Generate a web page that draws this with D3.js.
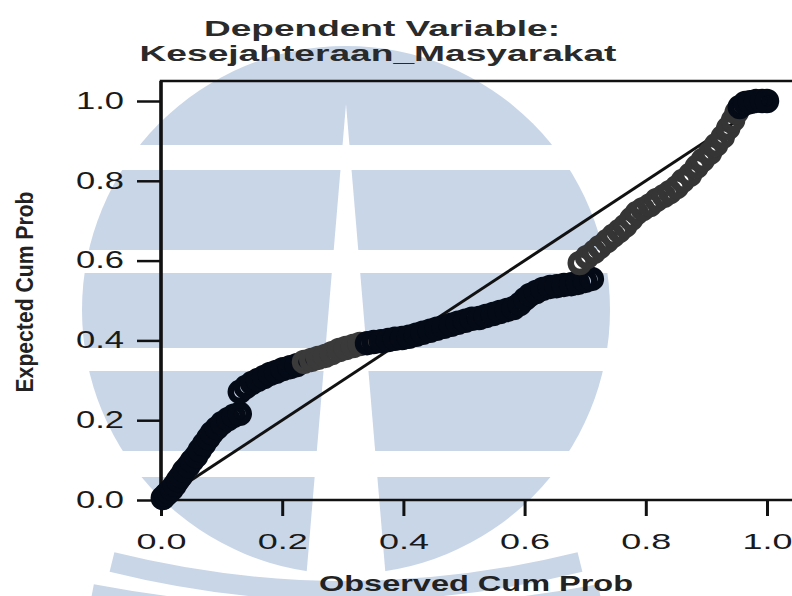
<!DOCTYPE html>
<meta charset="utf-8">

<!-- Load d3.js -->
<script src="https://d3js.org/d3.v7.js"></script>

<style>
  body { margin: 0; background: #fff; }
  text { font-family: "Liberation Sans", Arial, sans-serif; }
</style>

<div id="my_dataviz"></div>

<script>
// P-P plot values (observed cum prob, expected cum prob)
var observed = [0.003,0.008,0.013,0.018,0.023,0.028,0.033,0.038,0.045,0.051,0.058,0.064,0.071,0.078,0.084,0.092,0.101,0.111,0.120,0.130,
  0.130,0.140,0.150,0.160,0.170,0.180,0.190,0.201,0.213,0.224,0.236,0.248,0.259,0.271,0.282,0.294,0.305,0.317,0.328,0.340,
  0.351,0.363,0.375,0.386,0.398,0.409,0.421,0.432,0.444,0.455,0.467,0.479,0.490,0.502,0.513,0.525,0.536,0.548,0.559,0.571,
  0.582,0.592,0.601,0.609,0.619,0.630,0.642,0.653,0.665,0.677,0.688,0.700,0.711,
  0.691,0.703,0.715,0.724,0.736,0.746,0.756,0.766,0.776,0.785,0.795,0.807,0.818,0.830,0.840,0.851,0.861,0.873,0.884,0.894,
  0.906,0.916,0.927,0.936,0.944,0.950,0.955,0.964,0.972,0.982,0.992,1.000]
var expected = [0.005,0.013,0.020,0.028,0.038,0.050,0.060,0.073,0.085,0.098,0.110,0.125,0.140,0.155,0.168,0.180,0.193,0.203,0.211,0.216,
  0.271,0.283,0.293,0.301,0.308,0.316,0.321,0.328,0.333,0.338,0.346,0.351,0.356,0.361,0.368,0.376,0.381,0.386,0.391,0.393,
  0.396,0.398,0.401,0.404,0.406,0.409,0.414,0.419,0.424,0.429,0.434,0.439,0.444,0.449,0.454,0.456,0.461,0.466,0.471,0.476,
  0.481,0.491,0.504,0.514,0.521,0.529,0.534,0.536,0.539,0.541,0.544,0.549,0.554,
  0.594,0.609,0.622,0.634,0.649,0.662,0.674,0.687,0.704,0.719,0.729,0.739,0.752,0.762,0.772,0.784,0.800,0.815,0.835,0.852,
  0.870,0.890,0.910,0.932,0.952,0.972,0.985,0.995,0.997,1.000,1.000,1.000]
var tickValues = [0, 0.2, 0.4, 0.6, 0.8, 1.0]
var titleLines = ["Dependent Variable:", "Kesejahteraan_Masyarakat"]
var xTitle = "Observed Cum Prob"
var yTitle = "Expected Cum Prob"

var W = 792, H = 596

// the scan is printed darker in some stretches of the band
function tone(o, e) {
  if (e > 0.58 && o < 0.955) return "#353535"
  if (o > 0.225 && o < 0.335 && e < 0.5) return "#3a3a3a"
  return "#050b16"
}

var svg = d3.select("#my_dataviz")
  .append("svg")
    .attr("width", W)
    .attr("height", H)

// watermark logo behind the chart
var blue = "#c9d6e8"
var cx = 346, cy = 310, r = 264
svg.append("defs").append("clipPath").attr("id", "logo")
  .append("circle").attr("cx", cx).attr("cy", cy).attr("r", r)
var wm = svg.append("g")
wm.append("g").attr("clip-path", "url(#logo)")
  .selectAll("rect")
  .data([[40, 145], [170, 250], [273, 348], [371, 451], [477, 580]])
  .join("rect")
    .attr("x", cx - r).attr("width", 2 * r)
    .attr("y", d => d[0]).attr("height", d => d[1] - d[0])
    .attr("fill", blue)
wm.append("path")
  .attr("d", `M${cx},104 L${cx + 40},580 L${cx - 40},580 Z`)
  .attr("fill", "#fff")
wm.selectAll("path.arc")
  .data([[112, 562, 580], [92, 594, 602]])
  .join("path")
    .attr("class", "arc")
    .attr("d", d => `M${d[0]},${d[1]} Q${cx},${d[2] + 40} ${2 * cx - d[0]},${d[1]}`)
    .attr("fill", "none")
    .attr("stroke", blue)
    .attr("stroke-width", 20)

// scales
var x = d3.scaleLinear().domain([0, 1]).range([161, 767])
var y = d3.scaleLinear().domain([0, 1]).range([500, 101])

// frame (right side runs off the page as in the scan)
svg.append("rect")
  .attr("x", 161).attr("y", 81)
  .attr("width", 660).attr("height", 419)
  .attr("fill", "none").attr("stroke", "#111").attr("stroke-width", 2.5)
svg.append("line")
  .attr("x1", 161).attr("x2", 161).attr("y1", 81).attr("y2", 500)
  .attr("stroke", "#111").attr("stroke-width", 3.5)

// axes
var yAxis = svg.append("g")
  .attr("transform", "translate(161,0)")
  .call(d3.axisLeft(y).tickValues(tickValues).tickFormat(d3.format(".1f")).tickSize(24).tickPadding(13))
var xAxis = svg.append("g")
  .attr("transform", "translate(0,500)")
  .call(d3.axisBottom(x).tickValues(tickValues).tickFormat(d3.format(".1f")).tickSize(16))
svg.selectAll(".domain").remove()
svg.selectAll(".tick line").attr("stroke", "#111").attr("stroke-width", 3)
yAxis.selectAll(".tick line").attr("stroke-width", 2.5)
yAxis.selectAll(".tick text")
  .attr("font-size", 23).attr("fill", "#1a1a1a")
  .attr("font-family", "Liberation Sans, Arial, sans-serif")
  .attr("textLength", 48).attr("lengthAdjust", "spacingAndGlyphs")
xAxis.selectAll(".tick text")
  .attr("y", 49).attr("dy", 0)
  .attr("font-size", 22).attr("fill", "#1a1a1a")
  .attr("font-family", "Liberation Sans, Arial, sans-serif")
  .attr("textLength", 50).attr("lengthAdjust", "spacingAndGlyphs")

// reference diagonal
svg.append("path")
  .attr("d", d3.line()([[x(0), y(0)], [x(1), y(1)]]))
  .attr("stroke", "#111").attr("stroke-width", 3).attr("fill", "none")

// points: thick open circles
svg.append("g")
  .selectAll("circle")
  .data(d3.zip(observed, expected))
  .join("circle")
    .attr("cx", d => x(d[0]))
    .attr("cy", d => y(d[1]))
    .attr("r", 9)
    .attr("fill", "none")
    .attr("stroke", d => tone(d[0], d[1]))
    .attr("stroke-width", 6.5)

// titles
svg.selectAll("text.title")
  .data(titleLines)
  .join("text")
    .attr("class", "title")
    .attr("x", (d, i) => i ? 378 : 382)
    .attr("y", (d, i) => i ? 61 : 36)
    .attr("text-anchor", "middle")
    .attr("font-size", 22).attr("font-weight", "bold").attr("fill", "#2a2a2a")
    .attr("textLength", (d, i) => i ? 477 : 356)
    .attr("lengthAdjust", "spacingAndGlyphs")
    .text(d => d)

svg.append("text")
  .attr("x", 476).attr("y", 591)
  .attr("text-anchor", "middle")
  .attr("font-size", 22).attr("font-weight", "bold").attr("fill", "#222")
  .attr("textLength", 314).attr("lengthAdjust", "spacingAndGlyphs")
  .text(xTitle)

svg.append("text")
  .attr("transform", "translate(33,292) rotate(-90) scale(1,1.12)")
  .attr("text-anchor", "middle")
  .attr("font-size", 21).attr("font-weight", "bold").attr("fill", "#222")
  .attr("textLength", 201).attr("lengthAdjust", "spacingAndGlyphs")
  .text(yTitle)
</script>
